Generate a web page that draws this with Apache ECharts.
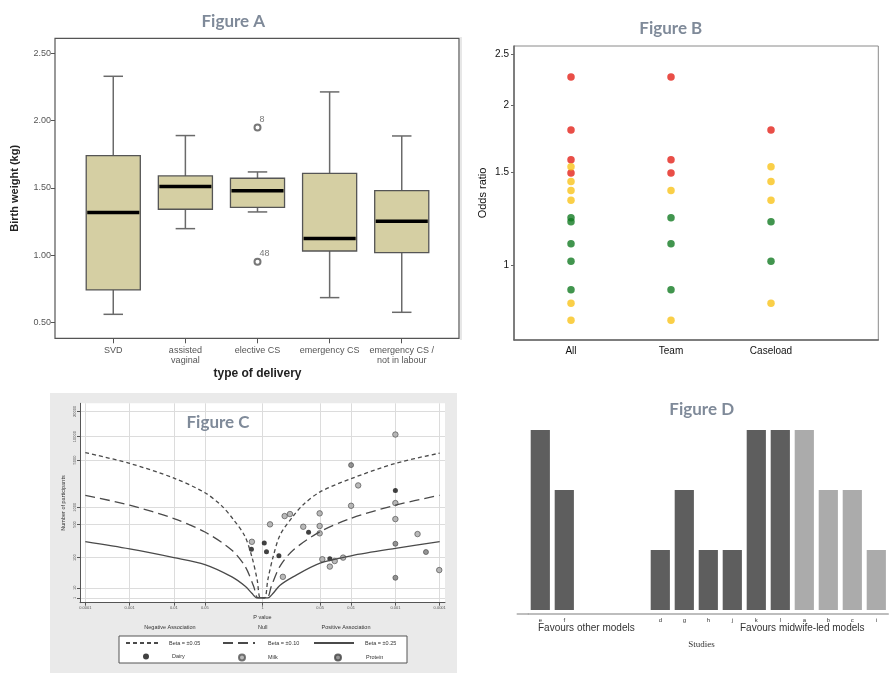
<!DOCTYPE html>
<html><head><meta charset="utf-8">
<script src="https://cdn.jsdelivr.net/npm/echarts@6/dist/echarts.min.js"></script>
<style>html,body{margin:0;padding:0;background:#fff}#c{width:889px;height:673px}</style>
</head><body><div id="c"></div>
<script>
// ---------- Figure A : birth weight by type of delivery ----------
const deliveryTypes = ['SVD', 'assisted\nvaginal', 'elective CS', 'emergency CS', 'emergency CS /\nnot in labour'];
const boxMin    = [0.562, 1.198, 1.322, 0.686, 0.577];
const boxQ1     = [0.743, 1.342, 1.356, 1.032, 1.020];
const boxMedian = [1.317, 1.510, 1.480, 1.124, 1.252];
const boxQ3     = [1.740, 1.589, 1.572, 1.609, 1.480];
const boxMax    = [2.329, 1.889, 1.619, 2.213, 1.886];
const outlierCategory = [2, 2];
const outlierValue = [1.948, 0.953];
const outlierLabel = ['8', '48'];
const weightTicks = [0.5, 1, 1.5, 2, 2.5];

// ---------- Figure B : odds ratios ----------
const orGroups = ['All', 'Team', 'Caseload'];
const orRed    = [['All', 2.263], ['All', 1.800], ['All', 1.582], ['All', 1.494], ['Team', 2.263], ['Team', 1.582], ['Team', 1.494], ['Caseload', 1.800]];
const orYellow = [['All', 1.535], ['All', 1.439], ['All', 1.384], ['All', 1.327], ['All', 0.850], ['All', 0.790], ['Team', 1.384], ['Team', 0.790], ['Caseload', 1.535], ['Caseload', 1.439], ['Caseload', 1.327], ['Caseload', 0.850]];
const orGreen  = [['All', 1.231], ['All', 1.210], ['All', 1.100], ['All', 1.019], ['All', 0.901], ['Team', 1.231], ['Team', 1.100], ['Team', 0.901], ['Caseload', 1.210], ['Caseload', 1.019]];
const orTicks = [1, 1.5, 2, 2.5];

// ---------- Figure C : P value vs number of participants ----------
// x = signed -log10(P) (negative association left, positive right); y = number of participants
const pTickLabels = ['0.0001', '0.001', '0.01', '0.05', '1', '0.05', '0.01', '0.001', '0.0001'];
const pTickSide   = [-1, -1, -1, -1, 0, 1, 1, 1, 1];
const participantTicks = [1, 10, 100, 500, 1000, 5000, 10000, 20000];
const beta05 = [[-4, 6250], [-3, 4500], [-2, 2800], [-1.3, 1700], [-0.92, 1050], [-0.66, 620], [-0.4, 300], [-0.24, 105], [-0.12, 22], [-0.05, 1], [0.05, 1], [0.12, 22], [0.24, 105], [0.4, 320], [0.69, 700], [0.92, 1100], [1.3, 1750], [2, 2750], [3, 4500], [4, 6150]];
const beta10 = [[-4, 1550], [-3, 1080], [-2, 640], [-1.3, 360], [-0.69, 150], [-0.39, 58], [-0.2, 12], [-0.1, 1], [0.1, 1], [0.2, 12], [0.39, 58], [0.69, 150], [1.3, 365], [2, 645], [3, 1080], [4, 1550]];
const beta25 = [[-4, 230], [-3, 160], [-2, 100], [-1.3, 66], [-0.69, 28], [-0.39, 12], [-0.24, 4.8], [-0.12, 1], [0.12, 1], [0.24, 4.8], [0.39, 13], [0.69, 28], [1.3, 72], [2, 111], [3, 165], [4, 230]];
const dairyPoints = [[-0.25, 157], [0.04, 216], [0.09, 138], [0.37, 111], [1.04, 355], [1.52, 94], [3.0, 1840]];
const milkPoints = [[-0.24, 229], [0.17, 503], [0.5, 707], [0.62, 766], [0.46, 28], [0.92, 454], [1.29, 787], [1.29, 468], [1.29, 340], [1.35, 91], [1.52, 58], [1.63, 82], [1.82, 100], [2.0, 1055], [2.16, 2190], [3.0, 10600], [3.0, 1167], [3.0, 626], [3.5, 329], [3.99, 46]];
const proteinPoints = [[2.0, 4260], [3.0, 208], [3.69, 136], [3.0, 26]];
const legendNamesC = ['Beta = \u00b10.05', 'Beta = \u00b10.10', 'Beta = \u00b10.25', 'Dairy', 'Milk', 'Protein'];

// ---------- Figure D : studies ----------
const studySlots = ['e', 'f', ' ', '  ', '   ', 'd', 'g', 'h', 'j', 'k', 'l', 'a', 'b', 'c', 'i'];
const otherModelValues   = [3, 2, null, null, null, 1, 2, 1, 1, 3, 3, null, null, null, null];
const midwifeModelValues = [null, null, null, null, null, null, null, null, null, null, null, 3, 2, 2, 1];

// ---------- helpers ----------
const nToAxis = n => Math.pow(Math.log10(n), 2);          // original axis scale of Figure C
const pTickPos = pTickLabels.map((p, i) => pTickSide[i] * (-Math.log10(parseFloat(p))));
const partTickPos = participantTicks.map(nToAxis);
const nearestLabel = (v, pos, labels) => { let b = 0; pos.forEach((p, i) => { if (Math.abs(p - v) < Math.abs(pos[b] - v)) b = i; }); return labels[b]; };
const toC = arr => arr.map(d => [d[0], nToAxis(d[1])]);
const toB = arr => arr.map(d => [orGroups.indexOf(d[0]), d[1]]);

const titleFont = 'bold 17px Lato, "Open Sans", sans-serif';
const titleColor = '#7f8a99';
const TXT = '#333';

const chart = echarts.init(document.getElementById('c'), null, {renderer: 'canvas'});

const lineLegend = (name, left, w, pad) => ({data: [name], left: left, top: 640, padding: 0, itemWidth: w, itemHeight: 6,
  itemStyle: {opacity: 0}, textStyle: {fontSize: 5.5, color: '#333', padding: [0, 0, 0, pad]}});
const dotLegend = (name, left, pad) => ({data: [name], left: left, top: 653.5, padding: 0, itemWidth: 6, itemHeight: 6,
  textStyle: {fontSize: 5.5, color: '#333', padding: [0, 0, 0, pad]}});

const option = {
  animation: false,
  backgroundColor: '#fff',
  textStyle: {fontFamily: '"Liberation Sans", Arial, sans-serif'},
  grid: [
    {left: 77.2, top: 38.3, width: 360.6, height: 300},
    {left: 514, top: 46, width: 364.3, height: 294, show: true, borderColor: '#8a8a8a', borderWidth: 1, backgroundColor: 'transparent'},
    {left: 80, top: 403.3, width: 365, height: 199.4, show: true, backgroundColor: '#fff', borderWidth: 0},
    {left: 528.3, top: 430, width: 360, height: 184}
  ],
  xAxis: [
    {gridIndex: 0, type: 'category', data: deliveryTypes,
      axisLine: {show: false},
      axisTick: {show: true, alignWithLabel: true, length: 5, lineStyle: {color: '#555'}},
      axisLabel: {fontSize: 9, color: '#555', margin: 7, lineHeight: 10, interval: 0},
      name: 'type of delivery', nameLocation: 'middle', nameGap: 29,
      nameTextStyle: {fontSize: 12, fontWeight: 'bold', color: '#222'}},
    {gridIndex: 1, type: 'value', min: -0.57, max: 3.073,
      axisLine: {show: true, onZero: false, lineStyle: {color: '#666', width: 1.5}},
      axisTick: {show: false}, splitLine: {show: false},
      axisLabel: {customValues: [0, 1, 2], formatter: v => orGroups[Math.round(v)], fontSize: 10, color: '#111', margin: 6}},
    {gridIndex: 2, type: 'value', min: -4.12, max: 4.12,
      axisLine: {show: true, onZero: false, lineStyle: {color: '#555'}},
      axisTick: {show: true, customValues: pTickPos, length: 3, lineStyle: {color: '#555'}},
      axisLabel: {customValues: pTickPos, formatter: v => nearestLabel(v, pTickPos, pTickLabels), fontSize: 4, color: '#555', margin: 3},
      splitLine: {show: true, lineStyle: {color: '#dcdcdc'}},
      name: 'P value', nameLocation: 'middle', nameGap: 12, nameTextStyle: {fontSize: 5.5, color: '#333'}},
    {gridIndex: 3, type: 'category', data: studySlots,
      axisLine: {show: true, onZero: false, lineStyle: {color: '#a8a8a8', width: 1.5}},
      axisTick: {show: false},
      axisLabel: {interval: 0, fontSize: 6, color: '#333', margin: 3}}
  ],
  yAxis: [
    {gridIndex: 0, type: 'value', min: 0.384, max: 2.611, offset: 22.2,
      axisLine: {show: false, onZero: false},
      axisTick: {show: true, customValues: weightTicks, length: 4, lineStyle: {color: '#555'}},
      axisLabel: {customValues: weightTicks, formatter: v => v.toFixed(2), fontSize: 9, color: '#555', margin: 4},
      splitLine: {show: false},
      name: 'Birth weight (kg)', nameLocation: 'middle', nameGap: 35,
      nameTextStyle: {fontSize: 11, fontWeight: 'bold', color: '#222'}},
    {gridIndex: 1, type: 'log', min: 0.725, max: 2.588,
      axisLine: {show: true, onZero: false, lineStyle: {color: '#666', width: 1.5}},
      axisTick: {show: true, customValues: orTicks, length: 3, lineStyle: {color: '#666'}},
      axisLabel: {customValues: orTicks, fontSize: 10, color: '#111', margin: 5},
      splitLine: {show: false}, minorTick: {show: false},
      name: 'Odds ratio', nameLocation: 'middle', nameGap: 26, nameTextStyle: {fontSize: 11, color: '#111'}},
    {gridIndex: 2, type: 'value', min: -0.47, max: 19.3,
      axisLine: {show: true, onZero: false, lineStyle: {color: '#555'}},
      axisTick: {show: true, customValues: partTickPos, length: 3, lineStyle: {color: '#555'}},
      axisLabel: {customValues: partTickPos, formatter: v => String(nearestLabel(v, partTickPos, participantTicks)), fontSize: 4, rotate: 90, color: '#555', margin: 3},
      splitLine: {show: true, lineStyle: {color: '#dcdcdc'}},
      name: 'Number of participants', nameLocation: 'middle', nameGap: 14, nameTextStyle: {fontSize: 5.5, color: '#333'}},
    {gridIndex: 3, type: 'value', min: -0.0667, max: 3, show: false}
  ],
  legend: [
    lineLegend(legendNamesC[0], 125, 32, 6),
    lineLegend(legendNamesC[1], 222, 32, 8),
    lineLegend(legendNamesC[2], 313, 40, 6),
    dotLegend(legendNamesC[3], 143, 18),
    dotLegend(legendNamesC[4], 238, 18),
    dotLegend(legendNamesC[5], 334, 20)
  ],
  series: [
    // Figure A boxes
    {type: 'custom', xAxisIndex: 0, yAxisIndex: 0,
      data: deliveryTypes.map((c, i) => [i, boxMin[i], boxQ1[i], boxMedian[i], boxQ3[i], boxMax[i]]),
      encode: {x: 0, y: [1, 2, 3, 4, 5]},
      renderItem: (params, api) => {
        const i = api.value(0);
        const lo = api.coord([i, api.value(1)]), q1 = api.coord([i, api.value(2)]);
        const md = api.coord([i, api.value(3)]), q3 = api.coord([i, api.value(4)]);
        const hi = api.coord([i, api.value(5)]);
        const band = api.size([1, 0])[0];
        const bw = band * 0.75, cw = band * 0.27, cx = lo[0];
        const ws = {stroke: '#6a6a6a', lineWidth: 1.5};
        return {type: 'group', children: [
          {type: 'line', shape: {x1: cx, y1: hi[1], x2: cx, y2: q3[1]}, style: ws},
          {type: 'line', shape: {x1: cx, y1: q1[1], x2: cx, y2: lo[1]}, style: ws},
          {type: 'line', shape: {x1: cx - cw / 2, y1: hi[1], x2: cx + cw / 2, y2: hi[1]}, style: ws},
          {type: 'line', shape: {x1: cx - cw / 2, y1: lo[1], x2: cx + cw / 2, y2: lo[1]}, style: ws},
          {type: 'rect', shape: {x: cx - bw / 2, y: q3[1], width: bw, height: q1[1] - q3[1]}, style: {fill: '#d5cfa3', stroke: '#555', lineWidth: 1.3}},
          {type: 'line', shape: {x1: cx - bw / 2 + 1, y1: md[1], x2: cx + bw / 2 - 1, y2: md[1]}, style: {stroke: '#000', lineWidth: 3.5}}
        ]};
      }},
    {type: 'scatter', xAxisIndex: 0, yAxisIndex: 0,
      data: outlierValue.map((v, i) => [outlierCategory[i], v, outlierLabel[i]]),
      symbol: 'emptyCircle', symbolSize: 6, itemStyle: {color: '#555', borderWidth: 1},
      label: {show: true, formatter: p => p.data[2], position: [6, -9], fontSize: 9, color: '#555'}},
    // Figure B
    {type: 'scatter', xAxisIndex: 1, yAxisIndex: 1, data: toB(orRed), symbolSize: 7.5, itemStyle: {color: '#e32219'}},
    {type: 'scatter', xAxisIndex: 1, yAxisIndex: 1, data: toB(orYellow), symbolSize: 7.5, itemStyle: {color: '#f9c31a'}},
    {type: 'scatter', xAxisIndex: 1, yAxisIndex: 1, data: toB(orGreen), symbolSize: 7.5, itemStyle: {color: '#117b22'}},
    // Figure C curves
    {name: legendNamesC[0], type: 'line', xAxisIndex: 2, yAxisIndex: 2, data: toC(beta05), smooth: 0.3, symbol: 'none',
      lineStyle: {color: '#4a4a4a', width: 1.3, type: [4, 3]}, itemStyle: {color: '#4a4a4a'}},
    {name: legendNamesC[1], type: 'line', xAxisIndex: 2, yAxisIndex: 2, data: toC(beta10), smooth: 0.3, symbol: 'none',
      lineStyle: {color: '#4a4a4a', width: 1.3, type: [10, 5]}, itemStyle: {color: '#4a4a4a'}},
    {name: legendNamesC[2], type: 'line', xAxisIndex: 2, yAxisIndex: 2, data: toC(beta25), smooth: 0.3, symbol: 'none',
      lineStyle: {color: '#4a4a4a', width: 1.3}, itemStyle: {color: '#4a4a4a'}},
    {name: legendNamesC[3], type: 'scatter', xAxisIndex: 2, yAxisIndex: 2, data: toC(dairyPoints), symbolSize: 5,
      itemStyle: {color: '#111'}},
    {name: legendNamesC[4], type: 'scatter', xAxisIndex: 2, yAxisIndex: 2, data: toC(milkPoints), symbolSize: 5.5,
      itemStyle: {color: '#a8a8a8', borderColor: '#555', borderWidth: 0.9}},
    {name: legendNamesC[5], type: 'scatter', xAxisIndex: 2, yAxisIndex: 2, data: toC(proteinPoints), symbolSize: 5,
      itemStyle: {color: '#7a7a7a', borderColor: '#444', borderWidth: 0.8}},
    // Figure D
    {type: 'bar', xAxisIndex: 3, yAxisIndex: 3, data: otherModelValues, barWidth: '80%', barGap: '-100%', itemStyle: {color: '#5e5e5e'}},
    {type: 'bar', xAxisIndex: 3, yAxisIndex: 3, data: midwifeModelValues, barWidth: '80%', barGap: '-100%', itemStyle: {color: '#ababab'}}
  ],
  graphic: [
    // panel C background and legend frame
    {type: 'rect', z: -1, silent: true, shape: {x: 50, y: 393, width: 407, height: 280}, style: {fill: '#eaeaea'}},
    {type: 'rect', z: 1, silent: true, shape: {x: 119, y: 636, width: 288, height: 27}, style: {fill: '#fff', stroke: '#555', lineWidth: 1}},
    // panel A frame
    {type: 'rect', z: 10, silent: true, shape: {x: 55, y: 38.3, width: 404, height: 300}, style: {fill: 'none', stroke: '#555', lineWidth: 1.2}},
    // faint panel edge left of B
    {type: 'line', z: 1, silent: true, shape: {x1: 461, y1: 37, x2: 461, y2: 340}, style: {stroke: '#cfcfcf', lineWidth: 1}},
    // baseline extension of panel D
    {type: 'line', z: 1, silent: true, shape: {x1: 516.7, y1: 614, x2: 529, y2: 614}, style: {stroke: '#a8a8a8', lineWidth: 1.5}},
    // titles
    {type: 'text', z: 20, x: 233.3, y: 21.5, style: {text: 'Figure A', font: titleFont, fill: titleColor, textAlign: 'center', textVerticalAlign: 'middle'}},
    {type: 'text', z: 20, x: 670.8, y: 28.3, style: {text: 'Figure B', font: titleFont, fill: titleColor, textAlign: 'center', textVerticalAlign: 'middle'}},
    {type: 'text', z: 20, x: 218, y: 423, style: {text: 'Figure C', font: titleFont, fill: titleColor, textAlign: 'center', textVerticalAlign: 'middle'}},
    {type: 'text', z: 20, x: 701.7, y: 410, style: {text: 'Figure D', font: titleFont, fill: titleColor, textAlign: 'center', textVerticalAlign: 'middle'}},
    // panel C annotations
    {type: 'text', z: 20, x: 170, y: 627.3, style: {text: 'Negative Association', font: '5.5px "Liberation Sans", Arial', fill: TXT, textAlign: 'center', textVerticalAlign: 'middle'}},
    {type: 'text', z: 20, x: 262.7, y: 627.3, style: {text: 'Null', font: '5.5px "Liberation Sans", Arial', fill: TXT, textAlign: 'center', textVerticalAlign: 'middle'}},
    {type: 'text', z: 20, x: 346, y: 627.3, style: {text: 'Positive Association', font: '5.5px "Liberation Sans", Arial', fill: TXT, textAlign: 'center', textVerticalAlign: 'middle'}},
    // panel D annotations
    {type: 'text', z: 20, x: 538, y: 628.5, style: {text: 'Favours other models', font: '10px "Liberation Sans", Arial', fill: TXT, textAlign: 'left', textVerticalAlign: 'middle'}},
    {type: 'text', z: 20, x: 740, y: 628.5, style: {text: 'Favours midwife-led models', font: '10px "Liberation Sans", Arial', fill: TXT, textAlign: 'left', textVerticalAlign: 'middle'}},
    {type: 'text', z: 20, x: 701.5, y: 645, style: {text: 'Studies', font: '9px "Liberation Serif", serif', fill: TXT, textAlign: 'center', textVerticalAlign: 'middle'}}
  ]
};
chart.setOption(option);
</script>
</body></html>
